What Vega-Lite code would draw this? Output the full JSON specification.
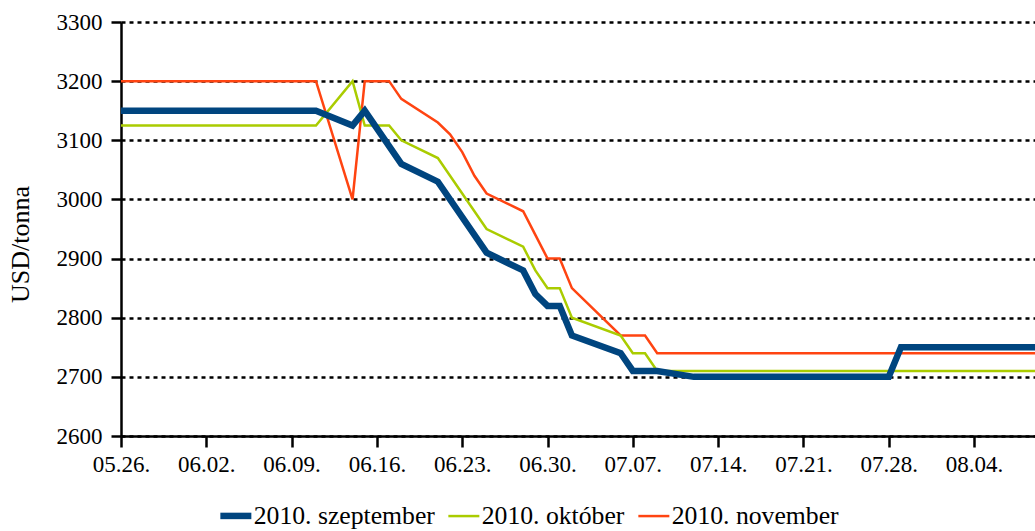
{
  "$schema": "https://vega.github.io/schema/vega-lite/v6.json",
  "width": 914,
  "height": 414,
  "autosize": {"type": "none"},
  "padding": {"left": 121, "top": 22, "right": 0, "bottom": 95},
  "background": "white",
  "config": {
    "font": "Liberation Serif",
    "view": {"stroke": null}
  },
  "data": {
    "values": [
      {"date": "2010-05-26", "series": "2010. november", "price": 3200},
      {"date": "2010-06-11", "series": "2010. november", "price": 3200},
      {"date": "2010-06-14", "series": "2010. november", "price": 3000},
      {"date": "2010-06-15", "series": "2010. november", "price": 3200},
      {"date": "2010-06-17", "series": "2010. november", "price": 3200},
      {"date": "2010-06-18", "series": "2010. november", "price": 3170},
      {"date": "2010-06-21", "series": "2010. november", "price": 3130},
      {"date": "2010-06-22", "series": "2010. november", "price": 3110},
      {"date": "2010-06-23", "series": "2010. november", "price": 3080},
      {"date": "2010-06-24", "series": "2010. november", "price": 3040},
      {"date": "2010-06-25", "series": "2010. november", "price": 3010},
      {"date": "2010-06-28", "series": "2010. november", "price": 2980},
      {"date": "2010-06-29", "series": "2010. november", "price": 2940},
      {"date": "2010-06-30", "series": "2010. november", "price": 2900},
      {"date": "2010-07-01", "series": "2010. november", "price": 2900},
      {"date": "2010-07-02", "series": "2010. november", "price": 2850},
      {"date": "2010-07-06", "series": "2010. november", "price": 2770},
      {"date": "2010-07-08", "series": "2010. november", "price": 2770},
      {"date": "2010-07-09", "series": "2010. november", "price": 2740},
      {"date": "2010-08-09", "series": "2010. november", "price": 2740},

      {"date": "2010-05-26", "series": "2010. október", "price": 3125},
      {"date": "2010-06-11", "series": "2010. október", "price": 3125},
      {"date": "2010-06-14", "series": "2010. október", "price": 3200},
      {"date": "2010-06-15", "series": "2010. október", "price": 3125},
      {"date": "2010-06-17", "series": "2010. október", "price": 3125},
      {"date": "2010-06-18", "series": "2010. október", "price": 3100},
      {"date": "2010-06-21", "series": "2010. október", "price": 3070},
      {"date": "2010-06-25", "series": "2010. október", "price": 2950},
      {"date": "2010-06-28", "series": "2010. október", "price": 2920},
      {"date": "2010-06-29", "series": "2010. október", "price": 2880},
      {"date": "2010-06-30", "series": "2010. október", "price": 2850},
      {"date": "2010-07-01", "series": "2010. október", "price": 2850},
      {"date": "2010-07-02", "series": "2010. október", "price": 2800},
      {"date": "2010-07-06", "series": "2010. október", "price": 2770},
      {"date": "2010-07-07", "series": "2010. október", "price": 2740},
      {"date": "2010-07-08", "series": "2010. október", "price": 2740},
      {"date": "2010-07-09", "series": "2010. október", "price": 2710},
      {"date": "2010-08-09", "series": "2010. október", "price": 2710},

      {"date": "2010-05-26", "series": "2010. szeptember", "price": 3150},
      {"date": "2010-06-11", "series": "2010. szeptember", "price": 3150},
      {"date": "2010-06-14", "series": "2010. szeptember", "price": 3125},
      {"date": "2010-06-15", "series": "2010. szeptember", "price": 3150},
      {"date": "2010-06-18", "series": "2010. szeptember", "price": 3060},
      {"date": "2010-06-21", "series": "2010. szeptember", "price": 3030},
      {"date": "2010-06-25", "series": "2010. szeptember", "price": 2910},
      {"date": "2010-06-28", "series": "2010. szeptember", "price": 2880},
      {"date": "2010-06-29", "series": "2010. szeptember", "price": 2840},
      {"date": "2010-06-30", "series": "2010. szeptember", "price": 2820},
      {"date": "2010-07-01", "series": "2010. szeptember", "price": 2820},
      {"date": "2010-07-02", "series": "2010. szeptember", "price": 2770},
      {"date": "2010-07-06", "series": "2010. szeptember", "price": 2740},
      {"date": "2010-07-07", "series": "2010. szeptember", "price": 2710},
      {"date": "2010-07-09", "series": "2010. szeptember", "price": 2710},
      {"date": "2010-07-12", "series": "2010. szeptember", "price": 2700},
      {"date": "2010-07-28", "series": "2010. szeptember", "price": 2700},
      {"date": "2010-07-29", "series": "2010. szeptember", "price": 2750},
      {"date": "2010-08-09", "series": "2010. szeptember", "price": 2750}
    ]
  },
  "mark": {"type": "line", "clip": true, "strokeJoin": "miter", "strokeCap": "butt"},
  "encoding": {
    "x": {
      "field": "date",
      "type": "temporal",
      "scale": {"type": "utc", "domain": [{"year": 2010, "month": 5, "date": 26, "utc": true}, {"year": 2010, "month": 8, "date": 9, "utc": true}]},
      "axis": {
        "title": null,
        "labelExpr": "utcFormat(datum.value, '%m.%d.')",
        "values": [
          {"year": 2010, "month": 5, "date": 26, "utc": true},
          {"year": 2010, "month": 6, "date": 2, "utc": true},
          {"year": 2010, "month": 6, "date": 9, "utc": true},
          {"year": 2010, "month": 6, "date": 16, "utc": true},
          {"year": 2010, "month": 6, "date": 23, "utc": true},
          {"year": 2010, "month": 6, "date": 30, "utc": true},
          {"year": 2010, "month": 7, "date": 7, "utc": true},
          {"year": 2010, "month": 7, "date": 14, "utc": true},
          {"year": 2010, "month": 7, "date": 21, "utc": true},
          {"year": 2010, "month": 7, "date": 28, "utc": true},
          {"year": 2010, "month": 8, "date": 4, "utc": true}
        ],
        "grid": false,
        "domainColor": "black",
        "domainWidth": 2.5,
        "tickColor": "black",
        "tickWidth": 2.5,
        "tickSize": 11,
        "labelFont": "Liberation Serif",
        "labelColor": "black",
        "labelFontSize": 23,
        "labelPadding": 6,
        "labelAngle": 0,
        "labelFlush": false,
        "labelOverlap": false
      }
    },
    "y": {
      "field": "price",
      "type": "quantitative",
      "scale": {"domain": [2600, 3300], "nice": false, "zero": false},
      "axis": {
        "title": "USD/tonna",
        "titleFont": "Liberation Serif",
        "titleColor": "black",
        "titleFontWeight": "normal",
        "titleFontSize": 26,
        "titleAngle": -90,
        "titleAlign": "center",
        "titleBaseline": "middle",
        "titleX": -101,
        "titleY": 222,
        "values": [2600, 2700, 2800, 2900, 3000, 3100, 3200, 3300],
        "format": "d",
        "grid": true,
        "gridColor": "black",
        "gridDash": [4, 4],
        "gridWidth": 2.5,
        "gridOpacity": 1,
        "domainColor": "black",
        "domainWidth": 2.5,
        "tickColor": "black",
        "tickWidth": 2.5,
        "tickSize": 10,
        "labelFont": "Liberation Serif",
        "labelColor": "black",
        "labelFontSize": 23,
        "labelPadding": 9
      }
    },
    "color": {
      "field": "series",
      "type": "nominal",
      "scale": {
        "domain": ["2010. szeptember", "2010. október", "2010. november"],
        "range": ["#00457F", "#AACC00", "#FF4411"]
      },
      "legend": {
        "title": null,
        "orient": "none",
        "direction": "horizontal",
        "legendX": 102,
        "legendY": 481,
        "symbolType": "stroke",
        "symbolSize": 961,
        "symbolStrokeWidth": 2.5,
        "labelFont": "Liberation Serif",
        "labelFontSize": 25.7,
        "labelColor": "black",
        "labelOffset": 5,
        "labelLimit": 400,
        "columnPadding": 8,
        "encode": {
          "symbols": {
            "update": {
              "strokeWidth": {"signal": "datum.value === '2010. szeptember' ? 6.5 : 2.5"}
            }
          }
        }
      }
    },
    "strokeWidth": {
      "condition": {"test": "datum.series === '2010. szeptember'", "value": 6.5},
      "value": 2.5
    },
    "order": {"field": "date", "type": "temporal"}
  }
}
